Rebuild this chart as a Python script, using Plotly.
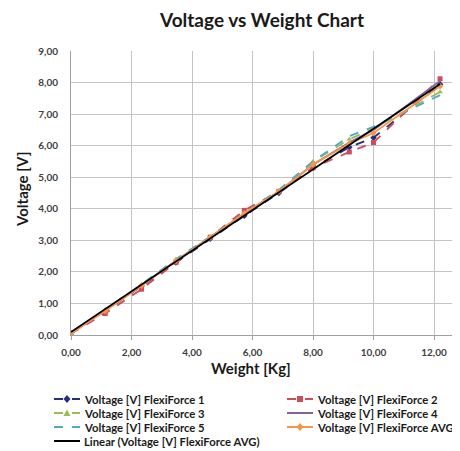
import numpy as np
import plotly.graph_objects as go

# ---- data ----
weights = [0.0, 1.13, 2.33, 3.47, 4.60, 5.73, 6.87, 8.00, 9.20, 10.00, 12.20]
ff1 = [0.05, 0.75, 1.55, 2.30, 3.05, 3.78, 4.50, 5.30, 5.95, 6.25, 7.95]
ff2 = [0.05, 0.68, 1.45, 2.30, 3.10, 3.95, 4.55, 5.30, 5.80, 6.10, 8.12]
ff3 = [0.05, 0.80, 1.60, 2.40, 3.10, 3.85, 4.55, 5.50, 6.20, 6.55, 7.70]
ff4 = [0.05, 0.78, 1.58, 2.35, 3.10, 3.85, 4.55, 5.40, 6.10, 6.50, 8.05]
ff5 = [0.05, 0.80, 1.60, 2.40, 3.12, 3.85, 4.60, 5.50, 6.30, 6.60, 7.60]
avg = [0.05, 0.76, 1.56, 2.35, 3.09, 3.86, 4.55, 5.40, 6.07, 6.40, 7.88]

names = ["Voltage [V] FlexiForce 1", "Voltage [V] FlexiForce 2",
         "Voltage [V] FlexiForce 3", "Voltage [V] FlexiForce 4",
         "Voltage [V] FlexiForce 5", "Voltage [V] FlexiForce AVG",
         "Linear (Voltage [V] FlexiForce AVG)"]
x_ticks = [0, 2, 4, 6, 8, 10, 12]
y_ticks = [0, 1, 2, 3, 4, 5, 6, 7, 8, 9]

colors = ["#26307A", "#D04A5E", "#9BBB59", "#8064A2", "#4BACC6", "#F79646", "#000000"]
dashes = ["dash", "dash", "dash", "solid", "dash", "solid", "solid"]
symbols = ["diamond", "square", "triangle-up", None, None, "diamond", None]

# page body has an 8px margin: figure is placed at (8, 8) in the 460x451 window
OFF = 8
VW, VH = 460, 451
W, H = VW - OFF, VH - OFF
# target plot area in window pixels: x 71..460, y 51..335
L, R, T, B = 71 - OFF, 0, 51 - OFF, VH - 335
pw, ph = W - L - R, H - T - B

def px(xw):   # window x pixel -> paper
    return (xw - OFF - L) / pw

def py(yw):   # window y pixel -> paper
    return (H - B - (yw - OFF)) / ph

FONT = "Lato"
fig = go.Figure()
series = [ff1, ff2, ff3, ff4, ff5, avg]
for i, s in enumerate(series):
    mode = "lines+markers" if symbols[i] else "lines"
    fig.add_trace(go.Scatter(
        x=weights, y=s, name=names[i], mode=mode,
        line=dict(color=colors[i], width=1.8, dash=dashes[i]),
        marker=dict(symbol=symbols[i] or "circle", size=5, color=colors[i]),
        showlegend=False))

# linear trendline of the AVG series
coef = np.polyfit(weights, avg, 1)
tx = [weights[0], weights[-1]]
ty = list(np.polyval(coef, tx))
fig.add_trace(go.Scatter(x=tx, y=ty, name=names[6], mode="lines",
                         line=dict(color="#000000", width=1.8), showlegend=False))

# ---- legend (two columns, drawn with shapes + text) ----
rows_y = [399, 413, 427, 441]
layout_items = [(0, 0, 0), (1, 1, 0), (2, 0, 1), (3, 1, 1), (4, 0, 2), (5, 1, 2), (6, 0, 3)]
col_line = [(54, 80), (287, 313)]
col_text = [82, 315]
shapes = []
annotations = []
for idx, col, row in layout_items:
    x0, x1 = col_line[col]
    yy = rows_y[row]
    shapes.append(dict(type="line", xref="paper", yref="paper",
                       x0=px(x0), x1=px(x1), y0=py(yy), y1=py(yy),
                       line=dict(color=colors[idx], width=2,
                                 dash="dash" if dashes[idx] == "dash" else "solid")))
    if symbols[idx]:
        cx = (x0 + x1) / 2
        if symbols[idx] == "square":
            shapes.append(dict(type="rect", xref="paper", yref="paper",
                               x0=px(cx - 3), x1=px(cx + 3), y0=py(yy + 3), y1=py(yy - 3),
                               line=dict(width=0), fillcolor=colors[idx]))
        elif symbols[idx] == "diamond":
            shapes.append(dict(type="path", xref="paper", yref="paper",
                               path="M {} {} L {} {} L {} {} L {} {} Z".format(
                                   px(cx), py(yy - 4), px(cx + 3.5), py(yy),
                                   px(cx), py(yy + 4), px(cx - 3.5), py(yy)),
                               line=dict(width=0), fillcolor=colors[idx]))
        else:
            shapes.append(dict(type="path", xref="paper", yref="paper",
                               path="M {} {} L {} {} L {} {} Z".format(
                                   px(cx), py(yy - 3.5), px(cx + 3.5), py(yy + 3),
                                   px(cx - 3.5), py(yy + 3)),
                               line=dict(width=0), fillcolor=colors[idx]))
    annotations.append(dict(text=names[idx], xref="paper", yref="paper",
                            x=px(col_text[col]), y=py(yy), xanchor="left", yanchor="middle",
                            showarrow=False,
                            font=dict(family=FONT, size=11.3, color="#1a1a1a", weight="bold")))

# axis titles
annotations.append(dict(text="Weight [Kg]", xref="paper", yref="paper",
                        x=px(251), y=py(368), xanchor="center", yanchor="middle",
                        showarrow=False,
                        font=dict(family=FONT, size=15, color="#1a1a1a", weight="bold")))
annotations.append(dict(text="Voltage [V]", xref="paper", yref="paper",
                        x=px(22), y=py(190), xanchor="center", yanchor="middle",
                        textangle=-90, showarrow=False,
                        font=dict(family=FONT, size=15, color="#1a1a1a", weight="bold")))

fig.update_layout(
    width=W, height=H,
    margin=dict(l=L, r=R, t=T, b=B),
    paper_bgcolor="white", plot_bgcolor="white",
    separators=",.",
    title=dict(text="Voltage vs Weight Chart", xref="container", x=(262 - OFF) / W,
               xanchor="center", y=1 - (20 - OFF) / H, yanchor="middle",
               font=dict(family=FONT, size=19, color="#1a1a1a", weight="bold")),
    shapes=shapes, annotations=annotations,
    showlegend=False,
)

fig.update_xaxes(range=[0, (VW - 71) / 30.25], tickvals=x_ticks, tickformat=".2f",
                 showgrid=True, gridcolor="#C4C4C4", gridwidth=1,
                 showline=True, linecolor="#A0A0A0", linewidth=1,
                 ticks="outside", ticklen=4, tickcolor="#A0A0A0",
                 ticklabelstandoff=4, zeroline=False,
                 tickfont=dict(family=FONT, size=10, color="#404040", weight="bold"))
fig.update_yaxes(range=[0, 9], tickvals=y_ticks, tickformat=".2f",
                 showgrid=True, gridcolor="#C4C4C4", gridwidth=1,
                 showline=True, linecolor="#A0A0A0", linewidth=1,
                 ticks="", ticklabelstandoff=10, zeroline=False,
                 tickfont=dict(family=FONT, size=10, color="#404040", weight="bold"))

fig.write_html("out.html")
